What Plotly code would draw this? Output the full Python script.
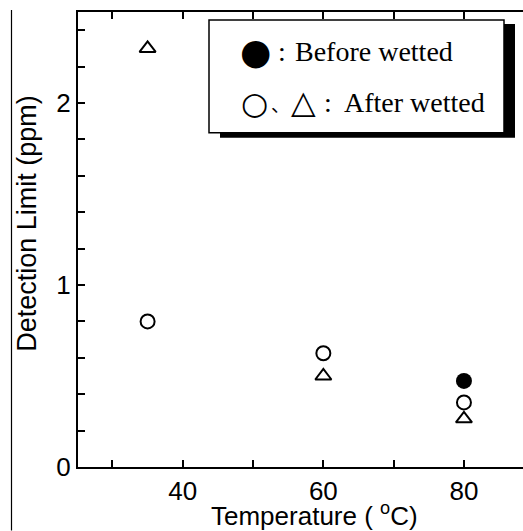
import plotly.graph_objects as go

# Data
temp_before = [80]
dl_before = [0.473]
temp_after_circle = [35, 60, 80]
dl_after_circle = [0.80, 0.625, 0.355]
temp_after_tri = [35, 60, 80]
dl_after_tri = [2.30, 0.50, 0.265]

x_ticks = [30, 40, 50, 60, 70, 80]
x_ticklabels = ["", "40", "", "60", "", "80"]
y_ticks = [0, 0.2, 0.4, 0.6, 0.8, 1.0, 1.2, 1.4, 1.6, 1.8, 2.0, 2.2, 2.4]
y_ticklabels = ["0", "", "", "", "", "1", "", "", "", "", "2", "", ""]

W, H = 523, 531
L, R, T, B = 78, 0, 12, 63.5
PW, PH = W - L - R, H - T - B

def px(x):
    return (x - L) / PW

def py(y):
    return (H - B - y) / PH

fig = go.Figure()
fig.add_trace(go.Scatter(x=temp_before, y=dl_before, mode="markers",
                         marker=dict(symbol="circle", size=16, color="black",
                                     line=dict(width=0)), showlegend=False))
fig.add_trace(go.Scatter(x=temp_after_circle, y=dl_after_circle, mode="markers",
                         marker=dict(symbol="circle-open", size=14, color="black",
                                     line=dict(width=2)), showlegend=False))
fig.add_trace(go.Scatter(x=temp_after_tri, y=dl_after_tri, mode="markers",
                         marker=dict(symbol="triangle-up-open", size=14, color="black",
                                     line=dict(width=2)), showlegend=False))

axis_common = dict(showline=True, linecolor="black", linewidth=2, ticks="inside",
                   ticklen=7, tickwidth=2, tickcolor="black", showgrid=False,
                   zeroline=False, tickfont=dict(family="Liberation Sans", size=26, color="black"))

fig.update_xaxes(range=[25.1, 88.4], tickmode="array", tickvals=x_ticks,
                 ticktext=x_ticklabels, mirror="ticks", **axis_common)
fig.update_yaxes(range=[0, 2.5], tickmode="array", tickvals=y_ticks,
                 ticktext=y_ticklabels, **axis_common)

shapes = [
    # page border line at left
    dict(type="line", xref="paper", yref="paper", x0=px(11.5), x1=px(11.5),
         y0=py(10), y1=py(531), line=dict(color="black", width=1.2)),
    # legend shadow
    dict(type="rect", xref="paper", yref="paper", x0=px(220), x1=px(515),
         y0=py(138), y1=py(24), fillcolor="black", line=dict(width=0)),
    # legend box
    dict(type="rect", xref="paper", yref="paper", x0=px(209), x1=px(504),
         y0=py(133), y1=py(20), fillcolor="white",
         line=dict(color="black", width=1.5)),
]

serif = "Liberation Serif"
sym = "DejaVu Sans"
ann = []
def add(text, x, y, size, family, xanchor="center"):
    ann.append(dict(text=text, xref="paper", yref="paper", x=px(x), y=py(y),
                    xanchor=xanchor, yanchor="middle", showarrow=False,
                    font=dict(family=family, size=size, color="black")))

add("●", 255, 52, 36, sym)
add(":", 282, 52, 28, serif)
add("Before wetted", 293, 52, 28, serif, "left")
add("○", 254, 103, 31, sym)
add("、", 280, 104, 19, "Noto Sans CJK JP")
add("△", 303, 102, 32, sym)
add(":", 328, 103, 28, serif)
add("After wetted", 342, 103, 28, serif, "left")

ann.append(dict(text="Detection Limit (ppm)", xref="paper", yref="paper",
                x=px(27), y=py(224), textangle=-90, showarrow=False,
                xanchor="center", yanchor="middle",
                font=dict(family="Liberation Sans", size=27, color="black")))
ann.append(dict(text="Temperature ( <sup>o</sup>C)", xref="paper", yref="paper",
                x=px(314), y=py(515), showarrow=False,
                xanchor="center", yanchor="middle",
                font=dict(family="Liberation Sans", size=26, color="black")))

fig.update_layout(width=W, height=H, margin=dict(l=L, r=R, t=T, b=B),
                  paper_bgcolor="white", plot_bgcolor="white",
                  shapes=shapes, annotations=ann, showlegend=False)

fig.write_html("out.html")
